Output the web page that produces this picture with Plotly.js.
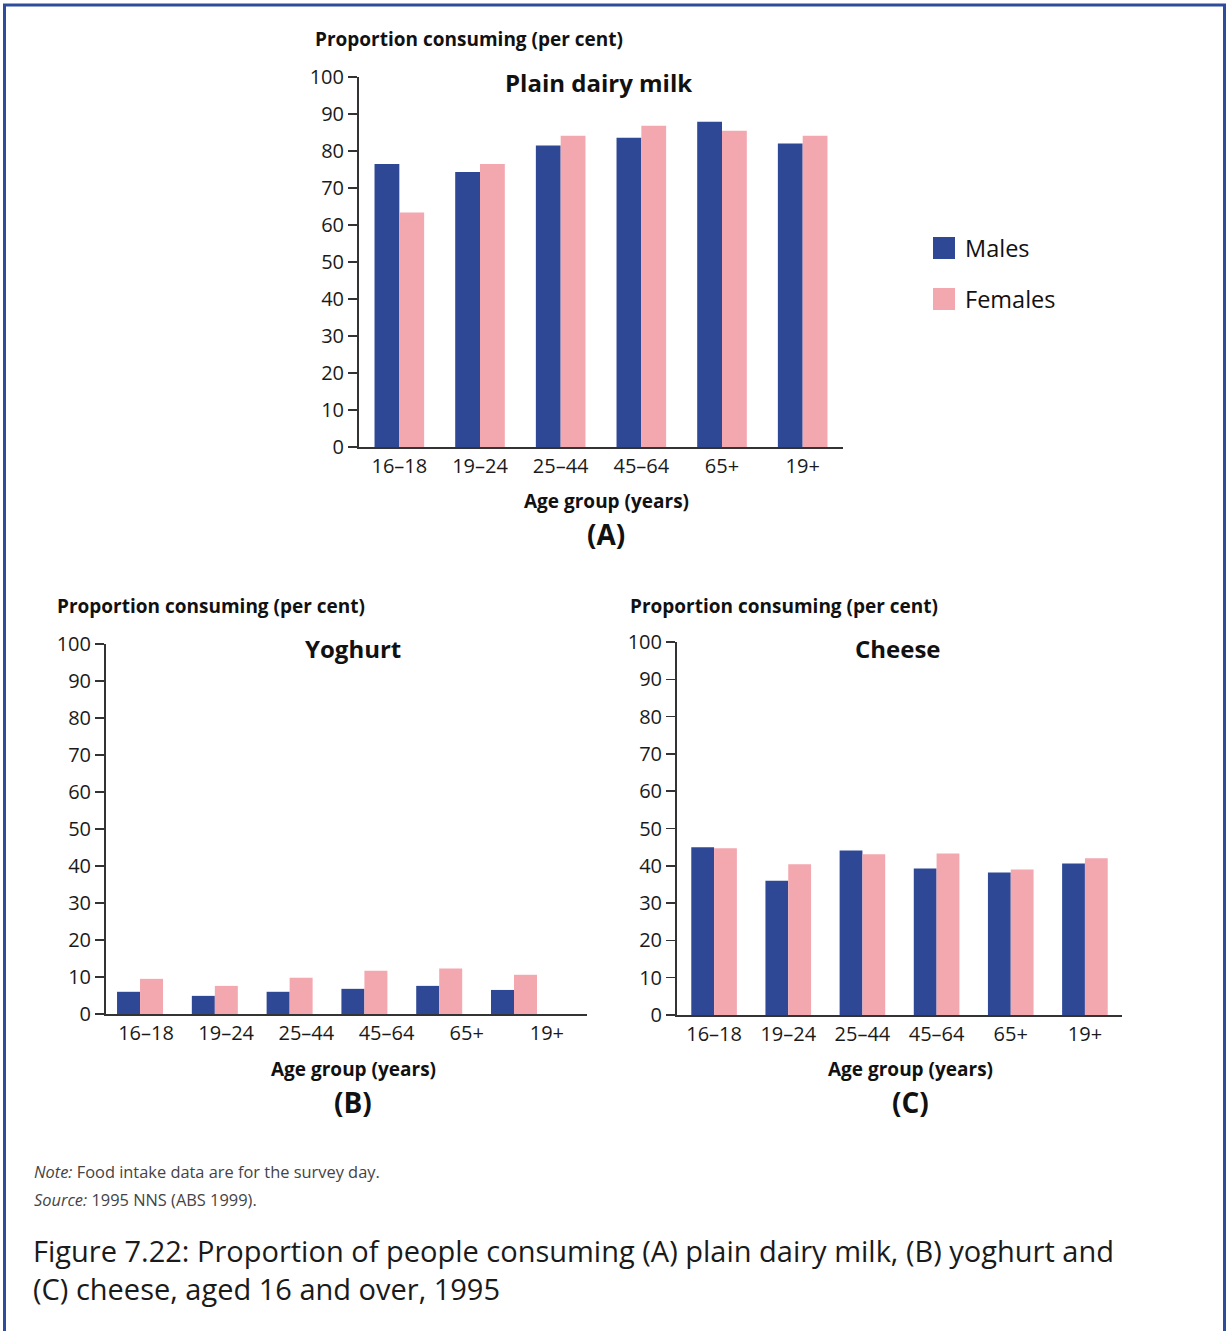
<!DOCTYPE html>
<html>
<head>
<meta charset="utf-8">
<script src="https://cdn.plot.ly/plotly-3.0.1.min.js"></script>
<style>
  html, body { margin: 0; padding: 0; background: #ffffff; }
  #chart { width: 1227px; height: 1331px; }
</style>
</head>
<body>
<div id="chart"></div>
<script>
// ---- Data ----
const ageGroups = ["16–18", "19–24", "25–44", "45–64", "65+", "19+"];
const milkMales = [76.5, 74.3, 81.5, 83.6, 87.9, 82.0];
const milkFemales = [63.4, 76.5, 84.1, 86.8, 85.5, 84.1];
const yoghurtMales = [6.0, 4.9, 6.0, 6.8, 7.6, 6.5];
const yoghurtFemales = [9.5, 7.6, 9.8, 11.7, 12.3, 10.6];
const cheeseMales = [45.0, 36.0, 44.1, 39.3, 38.2, 40.6];
const cheeseFemales = [44.7, 40.4, 43.1, 43.3, 39.0, 42.0];
const yTicks = [0, 10, 20, 30, 40, 50, 60, 70, 80, 90, 100];
const seriesNames = ["Males", "Females"];

// ---- Style ----
const W = 1227, H = 1331;
const MALE = "#2e4896";
const FEMALE = "#f3a8b0";
const FONT = "Open Sans, Noto Sans, sans-serif";
const AX = "#333333";
const px = v => v / W;
const py = v => 1 - v / H;

function barTrace(x, y, name, color, xa, ya) {
  return { type: "bar", x: x, y: y, name: name, xaxis: xa, yaxis: ya,
    marker: { color: color, line: { width: 0 } }, showlegend: false,
    hovertemplate: name + " %{x}: %{y}<extra></extra>" };
}

const data = [
  barTrace(ageGroups, milkMales, seriesNames[0], MALE, "x", "y"),
  barTrace(ageGroups, milkFemales, seriesNames[1], FEMALE, "x", "y"),
  barTrace(ageGroups, yoghurtMales, seriesNames[0], MALE, "x2", "y2"),
  barTrace(ageGroups, yoghurtFemales, seriesNames[1], FEMALE, "x2", "y2"),
  barTrace(ageGroups, cheeseMales, seriesNames[0], MALE, "x3", "y3"),
  barTrace(ageGroups, cheeseFemales, seriesNames[1], FEMALE, "x3", "y3")
];

function xAxis(d0, d1, anchor) {
  return { domain: [px(d0), px(d1)], anchor: anchor, showline: true, linecolor: AX, linewidth: 2,
    ticks: "", showgrid: false, zeroline: false, fixedrange: true,
    type: "category", categoryarray: ageGroups, categoryorder: "array", range: [-0.5, 5.5],
    tickfont: { family: FONT, size: 20, color: "#1a1a1a" }, ticklabelstandoff: 0 };
}
function yAxis(top, bottom, anchor) {
  return { domain: [py(bottom), py(top)], anchor: anchor, range: [0, 100], tickvals: yTicks,
    showline: true, linecolor: AX, linewidth: 2, ticks: "outside", ticklen: 9, tickwidth: 1.5,
    tickcolor: AX, showgrid: false, zeroline: false, fixedrange: true,
    tickfont: { family: FONT, size: 20, color: "#1a1a1a" }, ticklabelstandoff: 0 };
}

// Panel (B): in the original the bar groups are spaced a little tighter than
// the category labels, so the bars drift left of their labels; reproduce that.
const xB = xAxis(106, 587, "y2");
xB.range = [-0.455, 5.976];
xB.tickmode = "array";
xB.tickvals = ageGroups.map((g, i) => 0.08 + 1.072 * i);
xB.ticktext = ageGroups;

const boldT = (text, x, y, size, anchor) => ({
  text: "<b>" + text + "</b>", x: px(x), y: py(y), xref: "paper", yref: "paper",
  xanchor: anchor || "center", yanchor: "middle", showarrow: false,
  font: { family: FONT, size: size, color: "#111111" } });

const annotations = [
  boldT("Proportion consuming (per cent)", 313, 39, 19, "left"),
  boldT("Plain dairy milk", 598, 83, 24),
  boldT("Age group (years)", 606, 501, 19),
  boldT("(A)", 606, 534, 28),
  boldT("Proportion consuming (per cent)", 55, 606, 19, "left"),
  boldT("Yoghurt", 353, 649, 24),
  boldT("Age group (years)", 353, 1069, 19),
  boldT("(B)", 353, 1102, 28),
  boldT("Proportion consuming (per cent)", 628, 606, 19, "left"),
  boldT("Cheese", 898, 649, 24),
  boldT("Age group (years)", 910, 1069, 19),
  boldT("(C)", 910, 1102, 28),
  { text: seriesNames[0], x: px(963), y: py(248), xref: "paper", yref: "paper", xanchor: "left", yanchor: "middle",
    showarrow: false, font: { family: FONT, size: 23.5, color: "#111111" } },
  { text: seriesNames[1], x: px(963), y: py(299), xref: "paper", yref: "paper", xanchor: "left", yanchor: "middle",
    showarrow: false, font: { family: FONT, size: 23.5, color: "#111111" } },
  { text: "<i>Note:</i> Food intake data are for the survey day.", x: px(32), y: py(1171), xref: "paper", yref: "paper",
    xanchor: "left", yanchor: "middle", showarrow: false, font: { family: FONT, size: 16.4, color: "#444444" } },
  { text: "<i>Source:</i> 1995 NNS (ABS 1999).", x: px(32), y: py(1199), xref: "paper", yref: "paper",
    xanchor: "left", yanchor: "middle", showarrow: false, font: { family: FONT, size: 16.4, color: "#444444" } },
  { text: "Figure 7.22: Proportion of people consuming (A) plain dairy milk, (B) yoghurt and", x: px(31), y: py(1250),
    xref: "paper", yref: "paper", xanchor: "left", yanchor: "middle", showarrow: false,
    font: { family: FONT, size: 29, color: "#1a1a1a" } },
  { text: "(C) cheese, aged 16 and over, 1995", x: px(31), y: py(1288),
    xref: "paper", yref: "paper", xanchor: "left", yanchor: "middle", showarrow: false,
    font: { family: FONT, size: 29, color: "#1a1a1a" } }
];

const shapes = [
  { type: "rect", xref: "paper", yref: "paper", x0: px(4.5), x1: px(1224.5), y0: -0.02, y1: py(5),
    line: { color: "#2f4c9c", width: 3 }, fillcolor: "rgba(0,0,0,0)" },
  { type: "rect", xref: "paper", yref: "paper", x0: px(933), x1: px(955), y0: py(259), y1: py(237),
    line: { width: 0 }, fillcolor: MALE },
  { type: "rect", xref: "paper", yref: "paper", x0: px(933), x1: px(955), y0: py(310), y1: py(288),
    line: { width: 0 }, fillcolor: FEMALE }
];

const layout = {
  width: W, height: H, margin: { l: 0, r: 0, t: 0, b: 0 },
  paper_bgcolor: "#ffffff", plot_bgcolor: "#ffffff",
  barmode: "group", bargap: 0.385, bargroupgap: 0,
  showlegend: false,
  xaxis: xAxis(359, 843, "y"), yaxis: yAxis(77, 447, "x"),
  xaxis2: xB, yaxis2: yAxis(644, 1014, "x2"),
  xaxis3: xAxis(677, 1122, "y3"), yaxis3: yAxis(642, 1015, "x3"),
  annotations: annotations, shapes: shapes,
  font: { family: FONT }
};

Plotly.newPlot("chart", data, layout, { displayModeBar: false, staticPlot: true });
</script>
</body>
</html>
